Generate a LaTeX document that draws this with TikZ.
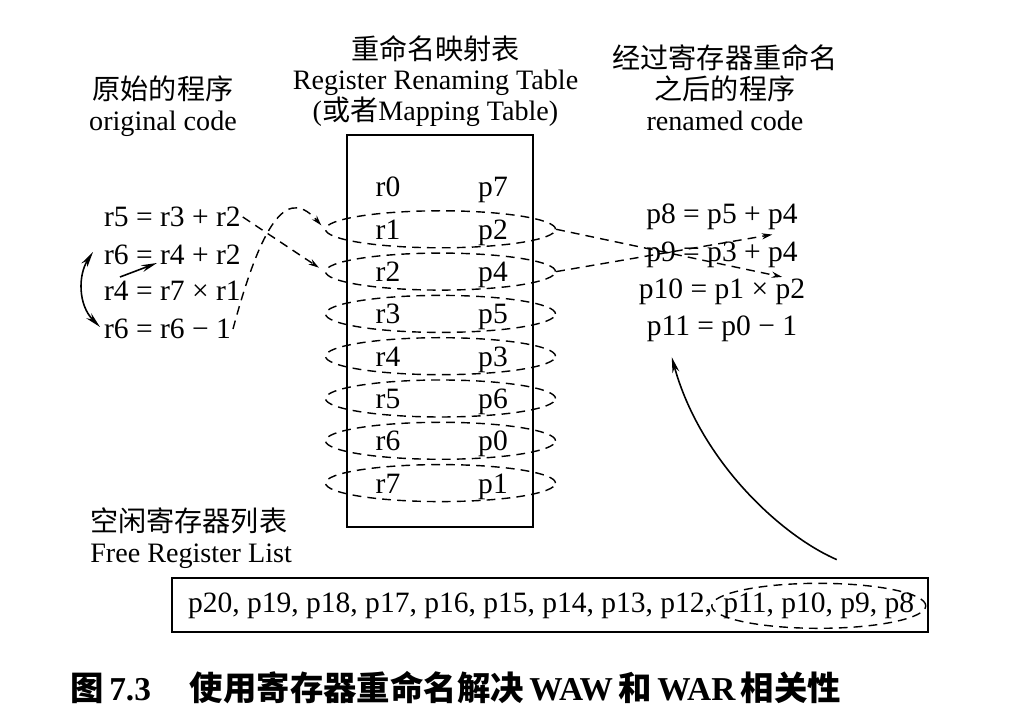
\documentclass[tikz,border=0pt]{standalone}
\usepackage{fontspec}
\setmainfont{Liberation Serif}
\newfontfamily\cjk{Noto Sans CJK SC}
\usetikzlibrary{arrows.meta, calc, positioning, shapes.geometric}

\begin{document}
\begin{tikzpicture}[font=\fontsize{16}{17.6}\selectfont,
    code/.style={inner sep=1pt, font=\fontsize{16.8}{20}\selectfont},
    entry/.style={ellipse, draw, line width=0.8pt, dash pattern=on 5pt off 3.5pt,
        minimum width=4.6cm, minimum height=0.74cm, inner sep=0pt},
    link/.style={line width=0.8pt, dash pattern=on 5pt off 3.5pt,
        -{Stealth[length=6pt,width=3.5pt]}},
    arr/.style={line width=0.9pt, -{Stealth[length=9pt,width=4pt]}}]
    \useasboundingbox (0,0) rectangle (20.48,-14.36);
    % 三个标题
    \node[align=center] (hOld) at (3.26,-2.12) {{\cjk 原始的程序}\\original code};
    \node[align=center] (hMap) at (8.71,-1.62)
        {{\cjk 重命名映射表}\\Register Renaming Table\\({\cjk 或者}Mapping Table)};
    \node[align=center] (hNew) at (14.5,-1.76) {{\cjk 经过寄存器重命名}\\{\cjk 之后的程序}\\renamed code};
    % 映射表
    \draw[line width=1.1pt] (6.94,-2.7) rectangle (10.66,-10.54);
    \foreach \i/\p in {0/7,1/2,2/4,3/5,4/3,5/6,6/0,7/1} {
        \node[code, anchor=base] (reg\i) at (7.76,-3.94-0.846*\i) {r\i};
        \node[code, anchor=base] (phy\i) at (9.86,-3.94-0.846*\i) {p\p};
    }
    \foreach \i in {1,...,7}
        \node[entry] (ent\i) at ($(reg\i.base)!0.5!(phy\i.base)+(0,0.2)$) {};
    % 原始的程序
    \node[code, anchor=west] (old1) at (2.04,-4.34) {r5 = r3 + r2};
    \node[code, anchor=west] (old2) at (2.04,-5.10) {r6 = r4 + r2};
    \node[code, anchor=west] (old3) at (2.04,-5.82) {r4 = r7 × r1};
    \node[code, anchor=west] (old4) at (2.04,-6.58) {r6 = r6 − 1};
    % 重命名之后的程序
    \node[code] (new1) at (14.44,-4.34) {p8 = p5 + p4};
    \node[code] (new2) at (14.44,-5.10) {p9 = p3 + p4};
    \node[code] (new3) at (14.44,-5.84) {p10 = p1 × p2};
    \node[code] (new4) at (14.44,-6.58) {p11 = p0 − 1};
    % 相关性
    \draw[line width=0.9pt, {Stealth[length=9pt,width=4pt]}-{Stealth[length=9pt,width=4pt]}]
        ($(old2.west)+(-0.18,0.06)$) .. controls ($(old2.west)+(-0.48,-0.4)$)
        and ($(old4.west)+(-0.48,0.48)$) .. ($(old4.west)+(-0.04,0.04)$);
    \draw[arr] ($(old3.west)+(0.36,0.28)$) -- ($(old2.west)+(1.1,-0.16)$);
    % 查表
    \draw[link, shorten >=4pt] (old1.east) -- (ent2.west);
    \draw[link, shorten >=3pt] (old4.east) .. controls (5.3,-4.2) and (5.8,-3.8) .. (ent1.west);
    \draw[link] (ent1.east) -- ($(new3.north east)+(-0.5,0)$);
    \draw[link] (ent2.east) -- ($(new1.south east)+(-0.55,-0.05)$);
    % 空闲寄存器列表
    \node[align=left, inner sep=0pt, anchor=west] (hFree) at (1.8,-10.76)
        {{\cjk 空闲寄存器列表}\\Free Register List};
    \draw[line width=1.1pt] (3.44,-11.56) rectangle (18.56,-12.64);
    \node[code, anchor=base west] (freeA) at (3.72,-12.25)
        {p20, p19, p18, p17, p16, p15, p14, p13, p12,};
    \node[code, anchor=base west] (freeB) at ([xshift=4pt]freeA.base east) {p11, p10, p9, p8};
    \node[entry, minimum width=4.28cm, minimum height=0.9cm] (freeSel) at (freeB.center) {};
    \draw[arr] ($(freeSel.north)+(0.36,0.46)$) .. controls (15.6,-10.7) and (14.0,-9.2)
        .. ($(new4.south west)+(0.54,-0.26)$);
    % 图题
    \node[anchor=west, inner sep=0pt, font=\fontsize{19}{22}\selectfont\bfseries] (cap) at (1.4,-13.76)
        {{\cjk 图}\,7.3\quad\,{\cjk 使用寄存器重命名解决}\,WAW\,{\cjk 和}\,WAR\,{\cjk 相关性}};
\end{tikzpicture}
\end{document}
